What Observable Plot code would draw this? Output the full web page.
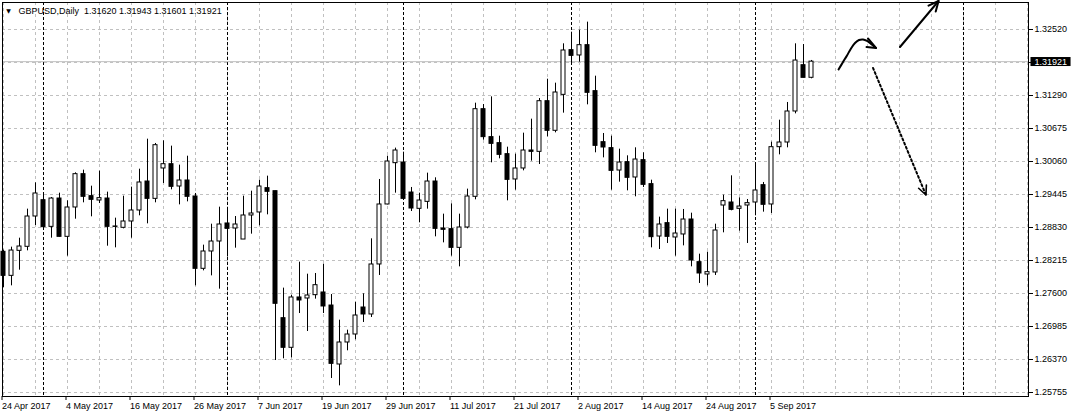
<!DOCTYPE html>
<html><head><meta charset="utf-8">
<script src="https://cdn.jsdelivr.net/npm/d3@7"></script>
<script src="https://cdn.jsdelivr.net/npm/@observablehq/plot@0.6"></script>
<style>html,body{margin:0;padding:0;background:#fff;overflow:hidden}</style>
</head><body><div id="chart"></div>
<script>
// ---- data ----
const dates = [
"2017-04-24","2017-04-25","2017-04-26","2017-04-27","2017-04-28",
"2017-05-01","2017-05-02","2017-05-03","2017-05-04","2017-05-05",
"2017-05-08","2017-05-09","2017-05-10","2017-05-11","2017-05-12",
"2017-05-15","2017-05-16","2017-05-17","2017-05-18","2017-05-19",
"2017-05-22","2017-05-23","2017-05-24","2017-05-25","2017-05-26",
"2017-05-29","2017-05-30","2017-05-31","2017-06-01","2017-06-02",
"2017-06-05","2017-06-06","2017-06-07","2017-06-08","2017-06-09",
"2017-06-12","2017-06-13","2017-06-14","2017-06-15","2017-06-16",
"2017-06-19","2017-06-20","2017-06-21","2017-06-22","2017-06-23",
"2017-06-26","2017-06-27","2017-06-28","2017-06-29","2017-06-30",
"2017-07-03","2017-07-04","2017-07-05","2017-07-06","2017-07-07",
"2017-07-10","2017-07-11","2017-07-12","2017-07-13","2017-07-14",
"2017-07-17","2017-07-18","2017-07-19","2017-07-20","2017-07-21",
"2017-07-24","2017-07-25","2017-07-26","2017-07-27","2017-07-28",
"2017-07-31","2017-08-01","2017-08-02","2017-08-03","2017-08-04",
"2017-08-07","2017-08-08","2017-08-09","2017-08-10","2017-08-11",
"2017-08-14","2017-08-15","2017-08-16","2017-08-17","2017-08-18",
"2017-08-21","2017-08-22","2017-08-23","2017-08-24","2017-08-25",
"2017-08-28","2017-08-29","2017-08-30","2017-08-31","2017-09-01",
"2017-09-04","2017-09-05","2017-09-06","2017-09-07","2017-09-08",
"2017-09-11","2017-09-12"];
const open = [
1.28377,1.27929,1.28395,1.28470,1.29035,1.29339,1.28842,1.29370,1.28656,1.29203,
1.29824,1.29414,1.29333,1.29370,1.28849,1.28824,1.28942,1.29147,1.29687,1.29364,
1.29930,1.30010,1.29594,1.29706,1.29408,1.28060,1.28383,1.28569,1.28905,1.28811,
1.28606,1.29054,1.29110,1.29563,1.29507,1.27140,1.26588,1.27526,1.27507,1.27569,
1.27619,1.27376,1.26277,1.26687,1.26836,1.27339,1.27209,1.28141,1.29259,1.30029,
1.30041,1.29482,1.29178,1.29308,1.29687,1.28811,1.28799,1.28451,1.28830,1.29402,
1.31035,1.30514,1.30402,1.30197,1.29725,1.29930,1.30265,1.30240,1.31184,1.30632,
1.31302,1.32135,1.32036,1.32228,1.31371,1.30420,1.30309,1.29892,1.30048,1.29762,
1.30085,1.29638,1.28662,1.28911,1.28644,1.28700,1.28979,1.28184,1.27954,1.27992,
1.29240,1.29296,1.29178,1.29240,1.29296,1.29619,1.29259,1.30327,1.30414,1.30992,
1.31855,1.31620];
const high = [
1.28408,1.28464,1.28631,1.29172,1.29662,1.29451,1.29389,1.29470,1.29327,1.29849,
1.29899,1.29600,1.29880,1.29489,1.29004,1.29414,1.29582,1.29917,1.30476,1.30396,
1.30445,1.30346,1.29992,1.30159,1.29464,1.28501,1.28892,1.29209,1.29153,1.29035,
1.29414,1.29507,1.29712,1.29787,1.29507,1.27700,1.27569,1.28184,1.27960,1.27973,
1.28147,1.27581,1.27103,1.26917,1.27439,1.27594,1.28619,1.29725,1.30159,1.30309,
1.30234,1.29576,1.29470,1.29843,1.29756,1.29079,1.29271,1.29079,1.29545,1.31147,
1.31122,1.31265,1.30532,1.30327,1.30197,1.30588,1.30849,1.31234,1.31594,1.31520,
1.32253,1.32470,1.32508,1.32657,1.31650,1.30582,1.30532,1.30290,1.30166,1.30315,
1.30222,1.29712,1.29023,1.29172,1.29172,1.29166,1.29097,1.28333,1.28370,1.28892,
1.29433,1.29793,1.29383,1.29352,1.30010,1.29669,1.30420,1.30830,1.31160,1.32253,
1.32240,1.31943];
const low = [
1.27706,1.27743,1.28035,1.28395,1.28867,1.28830,1.28631,1.28650,1.28296,1.28985,
1.29290,1.29029,1.29277,1.28482,1.28451,1.28805,1.28631,1.29048,1.28898,1.29290,
1.29650,1.29532,1.29252,1.29308,1.27743,1.28022,1.27929,1.27681,1.28283,1.28445,
1.28606,1.28706,1.28861,1.29066,1.26351,1.26383,1.26401,1.27227,1.26892,1.27495,
1.27227,1.26016,1.25879,1.26532,1.26737,1.27060,1.27153,1.27936,1.29252,1.29470,
1.29364,1.29128,1.28917,1.29172,1.28656,1.28544,1.28296,1.28097,1.28805,1.29346,
1.30458,1.30035,1.30110,1.29327,1.29526,1.29886,1.30066,1.30004,1.30520,1.30594,
1.30961,1.31862,1.31911,1.31116,1.30222,1.30128,1.29526,1.29675,1.29513,1.29402,
1.29576,1.28451,1.28420,1.28532,1.28296,1.28488,1.28097,1.27787,1.27743,1.27936,
1.28731,1.29141,1.28762,1.28532,1.29048,1.29116,1.29091,1.30184,1.30315,1.30948,
1.31619,1.31601];
const close = [
1.27929,1.28401,1.28476,1.29035,1.29464,1.28836,1.29370,1.28656,1.29203,1.29824,
1.29402,1.29346,1.29377,1.28842,1.28842,1.28942,1.29147,1.29669,1.29364,1.30364,
1.30010,1.29588,1.29706,1.29402,1.28060,1.28383,1.28569,1.28886,1.28805,1.28886,
1.29054,1.29091,1.29594,1.29495,1.27408,1.26588,1.27526,1.27470,1.27563,1.27755,
1.27358,1.26289,1.26687,1.26836,1.27190,1.27209,1.28141,1.29259,1.30060,1.30265,
1.29364,1.29184,1.29333,1.29687,1.28805,1.28787,1.28451,1.28830,1.29408,1.31035,
1.30514,1.30389,1.30184,1.29718,1.29930,1.30265,1.30240,1.31184,1.30632,1.31346,
1.32129,1.32029,1.32228,1.31340,1.30352,1.30321,1.29886,1.30041,1.29756,1.30097,
1.29625,1.28650,1.28886,1.28656,1.28718,1.28979,1.28215,1.27973,1.27998,1.28774,
1.29321,1.29159,1.29221,1.29284,1.29520,1.29253,1.30327,1.30414,1.30992,1.31942,
1.31619,1.31921];

const symbolLabel = "GBPUSD,Daily";
const priceTicks = [1.32520,1.31905,1.31290,1.30675,1.30060,1.29445,1.28830,1.28215,1.27600,1.26985,1.26370,1.25755];
const hiddenPriceTick = 1.31905;
const dateTickLabels = ["2017-04-24","2017-05-04","2017-05-16","2017-05-26","2017-06-07","2017-06-19","2017-06-29","2017-07-11","2017-07-21","2017-08-02","2017-08-14","2017-08-24","2017-09-05"];
const futureSeparatorBars = [120];

// hand-drawn scenario arrows, in (bar index, price)
const curveArrowBar   = [104.38,104.94,105.44,105.94,106.44,106.94,107.44,107.94,108.44,109.06];
const curveArrowPrice = [1.31775,1.31914,1.32036,1.32166,1.32268,1.32324,1.32334,1.32306,1.32250,1.32175];
const curveHeadBar    = [108.06,109.06,107.88];
const curveHeadPrice  = [1.32352,1.32175,1.32194];
const upArrowBar      = [112.06,116.88];
const upArrowPrice    = [1.32194,1.33051];
const upHeadBar       = [115.63,116.88,116.53];
const upHeadPrice     = [1.32964,1.33051,1.32854];
const downArrowBar    = [108.69,115.31];
const downArrowPrice  = [1.31803,1.29436];
const downHeadBar     = [114.39,115.31,115.36];
const downHeadPrice   = [1.29561,1.29436,1.29622];

// ---- build ----
const bars = dates.map((d, i) => ({i, date: d, o: open[i], h: high[i], l: low[i], c: close[i]}));
const up = bars.filter(b => b.c >= b.o);
const down = bars.filter(b => b.c < b.o);
const monthStarts = bars.filter((b, i) => i > 0 && b.date.slice(5, 7) !== dates[i - 1].slice(5, 7)).map(b => b.i);
const separators = monthStarts.concat(futureSeparatorBars);
const gridBars = d3.range(0, 129, 4);
const tickBars = dateTickLabels.map(d => dates.indexOf(d));
const fmtDate = d3.utcFormat("%-d %b %Y");
const last = bars[bars.length - 1];
const title = symbolLabel + "\u00a0\u00a0" + [last.o, last.h, last.l, last.c].map(v => v.toFixed(5)).join(" ");
const pts = (xs, ys) => xs.map((x, k) => ({x, y: ys[k]}));

const chart = Plot.plot({
  width: 1071, height: 416,
  marginTop: 2, marginBottom: 20, marginLeft: 2, marginRight: 43,
  style: {background: "#fff", fontFamily: "'Liberation Sans', Arial, sans-serif", fontSize: "9px", color: "#000"},
  x: {type: "linear", domain: [-0.125, 128.125], axis: null},
  y: {domain: [1.256805, 1.330232], axis: null},
  marks: [
    Plot.ruleY(priceTicks, {stroke: "#c0c0c0", strokeDasharray: "3,3"}),
    Plot.ruleX(gridBars, {stroke: "#c0c0c0", strokeDasharray: "3,3"}),
    Plot.ruleX(separators, {stroke: "#000", strokeDasharray: "3,2"}),
    Plot.ruleY([last.c], {stroke: "#c0c0c0"}),
    Plot.ruleX(bars, {x: "i", y1: "l", y2: "h", stroke: "#000"}),
    Plot.rect(up, {x1: d => d.i - 0.25, x2: d => d.i + 0.25, y1: "o", y2: "c", fill: "#fff", stroke: "#000"}),
    Plot.rect(down, {x1: d => d.i - 0.25, x2: d => d.i + 0.25, y1: "o", y2: "c", fill: "#000", stroke: "#000"}),
    Plot.line(pts(curveArrowBar, curveArrowPrice), {x: "x", y: "y", curve: "catmull-rom", stroke: "#000", strokeWidth: 2}),
    Plot.line(pts(curveHeadBar, curveHeadPrice), {x: "x", y: "y", stroke: "#000", strokeWidth: 2}),
    Plot.line(pts(upArrowBar, upArrowPrice), {x: "x", y: "y", stroke: "#000", strokeWidth: 2}),
    Plot.line(pts(upHeadBar, upHeadPrice), {x: "x", y: "y", stroke: "#000", strokeWidth: 2}),
    Plot.line(pts(downArrowBar, downArrowPrice), {x: "x", y: "y", stroke: "#000", strokeWidth: 2, strokeDasharray: "2,2.5"}),
    Plot.line(pts(downHeadBar, downHeadPrice), {x: "x", y: "y", stroke: "#000", strokeWidth: 1.6}),
    Plot.frame({stroke: "#000"}),
    Plot.axisY({anchor: "right", ticks: priceTicks, tickSize: 4, tickPadding: 2, label: null,
      tickFormat: d => d === hiddenPriceTick ? "" : d.toFixed(5)}),
    Plot.axisX({anchor: "bottom", ticks: tickBars, tickSize: 4, tickPadding: 2, label: null, textAnchor: "start", dx: -1.5,
      tickFormat: i => fmtDate(new Date(dates[i]))}),
    Plot.text([last.c], {y: d => d, frameAnchor: "right", dx: 6, textAnchor: "start", lineAnchor: "middle",
      fill: "#fff", text: d => d.toFixed(5), ariaDescription: "price-tag"}),
    Plot.text([title], {frameAnchor: "top-left", dx: 16, dy: 5.6, lineAnchor: "top", textAnchor: "start", fill: "#000"}),
    Plot.text(["\u25BC"], {frameAnchor: "top-left", dx: 6, dy: 9, lineAnchor: "middle", textAnchor: "middle",
      fontSize: 6, fontFamily: "DejaVu Sans", fill: "#000"})
  ]
});
document.getElementById("chart").appendChild(chart);

// black box behind the current-price label
d3.select(chart).selectAll('g[aria-description="price-tag"] text').each(function() {
  const bb = this.getBBox();
  const cy = bb.y + bb.height / 2;
  const r = document.createElementNS("http://www.w3.org/2000/svg", "rect");
  r.setAttribute("x", bb.x - 4);
  r.setAttribute("y", cy - 4.5);
  r.setAttribute("width", bb.width + 7.5);
  r.setAttribute("height", 9);
  r.setAttribute("fill", "#000");
  const t = this.getAttribute("transform");
  if (t) r.setAttribute("transform", t);
  this.parentNode.insertBefore(r, this);
});
</script>
</body></html>
